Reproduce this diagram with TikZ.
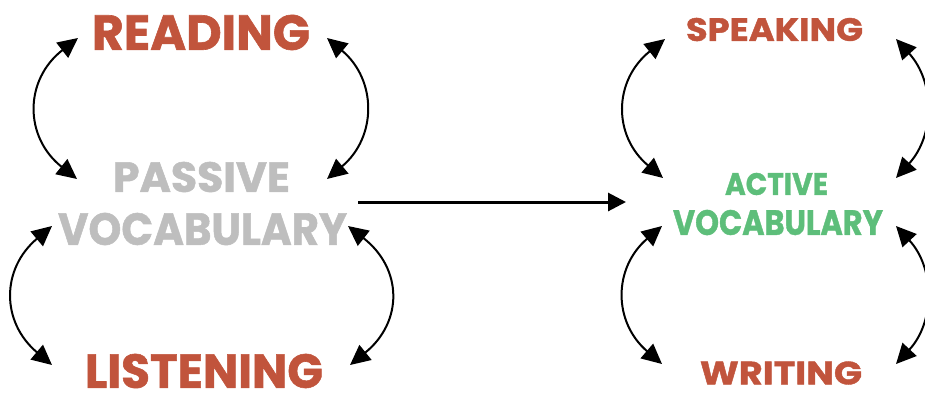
\documentclass[tikz,border=0pt]{standalone}
\usepackage{fontspec}
\usepackage{graphicx}
\newfontfamily\popfont{Poppins}[BoldFeatures={FakeBold=1.2}]
\usetikzlibrary{arrows.meta}
\definecolor{rust}{HTML}{C1543C}
\definecolor{pgray}{HTML}{BEBEBE}
\definecolor{agreen}{HTML}{5DBE7A}
\newcommand{\lbl}[3]{\resizebox{#1pt}{#2pt}{\popfont\bfseries #3}}
\begin{document}
\begin{tikzpicture}[x=1pt,y=-1pt,
  word/.style={inner sep=0pt,outer sep=0pt,anchor=center},
  arc/.style={line width=2pt,black,{Triangle[length=20pt,width=19pt]}-{Triangle[length=20pt,width=19pt]}},
  flow/.style={line width=3pt,black,-{Triangle[length=18pt,width=18pt]}}]
\useasboundingbox (0,0) rectangle (925,394);
% nodes
\node[word,text=rust] (read) at (201,32.5) {\lbl{218}{35}{READING}};
\node[word,text=pgray] (pass) at (201.5,177) {\lbl{177}{30}{PASSIVE}};
\node[word,text=pgray] (pvoc) at (202.5,229) {\lbl{289}{32}{VOCABULARY}};
\node[word,text=rust] (list) at (204,371) {\lbl{238}{34}{LISTENING}};
\node[word,text=rust] (speak) at (774.5,29.5) {\lbl{177}{23}{SPEAKING}};
\node[word,text=agreen] (act) at (776.5,184) {\lbl{103}{22}{ACTIVE}};
\node[word,text=agreen] (avoc) at (778,222.5) {\lbl{210}{25}{VOCABULARY}};
\node[word,text=rust] (write) at (781,373) {\lbl{162}{23}{WRITING}};
% arrow end points
\coordinate (rl) at (78,38);   \coordinate (pl) at (77,179);
\coordinate (rr) at (327,38);  \coordinate (pr) at (327,179);
\coordinate (vl) at (52,226);  \coordinate (ll) at (52,365);
\coordinate (vr) at (348,226); \coordinate (lr) at (350,365);
\coordinate (sl) at (665,39);  \coordinate (al) at (663,178);
\coordinate (sr) at (896,39);  \coordinate (ar) at (896,178);
\coordinate (bl) at (662,226); \coordinate (wl) at (662,364);
\coordinate (br) at (896,226); \coordinate (wr) at (896,364);
\coordinate (fs) at (358,202); \coordinate (fe) at (626,202);
% arcs
\draw[arc] (rl) .. controls (24,80) and (24,137) .. (pl);
\draw[arc] (rr) .. controls (377,80) and (377,137) .. (pr);
\draw[arc] (vl) .. controls (1,269) and (1,322) .. (ll);
\draw[arc] (vr) .. controls (403,269) and (403,322) .. (lr);
\draw[arc] (sl) .. controls (613,81) and (613,136) .. (al);
\draw[arc] (sr) .. controls (935,82) and (935,135) .. (ar);
\draw[arc] (bl) .. controls (613,268) and (613,322) .. (wl);
\draw[arc] (br) .. controls (935,268) and (935,322) .. (wr);
% main arrow
\draw[flow] (fs) -- (fe);
\end{tikzpicture}
\end{document}
